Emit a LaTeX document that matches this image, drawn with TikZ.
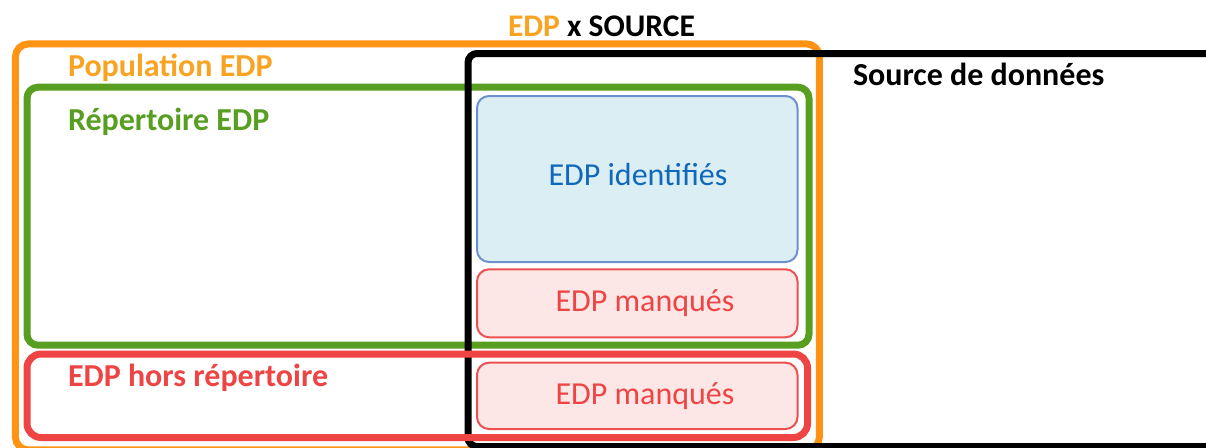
\documentclass[tikz,border=0pt]{standalone}
\usepackage{fontspec}
\setmainfont{Carlito}
\definecolor{cOrange}{RGB}{255,148,20}
\definecolor{cOrangeT}{RGB}{250,163,35}
\definecolor{cGreen}{RGB}{88,158,32}
\definecolor{cRed}{RGB}{238,68,68}
\definecolor{cBlueFill}{RGB}{219,238,243}
\definecolor{cBlueLine}{RGB}{108,145,204}
\definecolor{cBlueText}{RGB}{16,104,186}
\definecolor{cPinkFill}{RGB}{252,230,230}
\definecolor{cPinkLine}{RGB}{236,80,80}
\begin{document}
\begin{tikzpicture}[x=1pt,y=-1pt,
  frame/.style={draw, rectangle, line width=7pt, inner sep=0pt, outer sep=0pt},
  inbox/.style={draw, rectangle, line width=2pt, rounded corners=12pt, inner sep=0pt, outer sep=0pt},
  lab/.style={inner sep=0pt, outer sep=0pt, font=\fontsize{32}{38}\selectfont},
  blab/.style={lab, font=\fontsize{32}{38}\selectfont\bfseries}
]
\useasboundingbox (0,0) rectangle (1206,447);
\clip (0,0) rectangle (1206,447);
% containers
\node[frame, draw=cOrange, rounded corners=13pt, minimum width=804pt, minimum height=406pt] (pop) at (417.4,246.9) {};
\node[frame, draw=cGreen, rounded corners=11pt, minimum width=782pt, minimum height=258pt] (rep) at (418,216.2) {};
\node[frame, draw=black, rounded corners=9pt, minimum width=747pt, minimum height=393pt] (src) at (841.5,250) {};
\node[frame, draw=cRed, rounded corners=14pt, minimum width=780.5pt, minimum height=83.5pt] (hors) at (417.25,395.75) {};
% inner boxes
\node[inbox, draw=cBlueLine, fill=cBlueFill, minimum width=320.5pt, minimum height=166pt] (ident) at (637.25,179) {};
\node[inbox, draw=cPinkLine, fill=cPinkFill, minimum width=320.5pt, minimum height=68pt] (manq1) at (637.25,303.3) {};
\node[inbox, draw=cPinkLine, fill=cPinkFill, minimum width=320.5pt, minimum height=66.3pt] (manq2) at (637.25,395.85) {};
% labels
\node[blab, anchor=base west, font=\fontsize{31.5}{38}\selectfont\bfseries] (title) at (508,36) {\textcolor{cOrangeT}{EDP} x SOURCE};
\node[blab, anchor=base west, text=cOrangeT] (popl) at (68,76.7) {Population EDP};
\node[blab, anchor=base west, text=cGreen] (repl) at (68,130) {Répertoire EDP};
\node[blab, anchor=base west, text=black] (srcl) at (853,85.7) {Source de données};
\node[blab, anchor=base west, text=cRed] (horsl) at (68,386.7) {EDP hors répertoire};
\node[lab, anchor=base, text=cBlueText] (identl) at (638,185.7) {EDP identifiés};
\node[lab, anchor=base, text=cRed] (manq1l) at (645,311) {EDP manqués};
\node[lab, anchor=base, text=cRed] (manq2l) at (645,404.3) {EDP manqués};
\end{tikzpicture}
\end{document}
